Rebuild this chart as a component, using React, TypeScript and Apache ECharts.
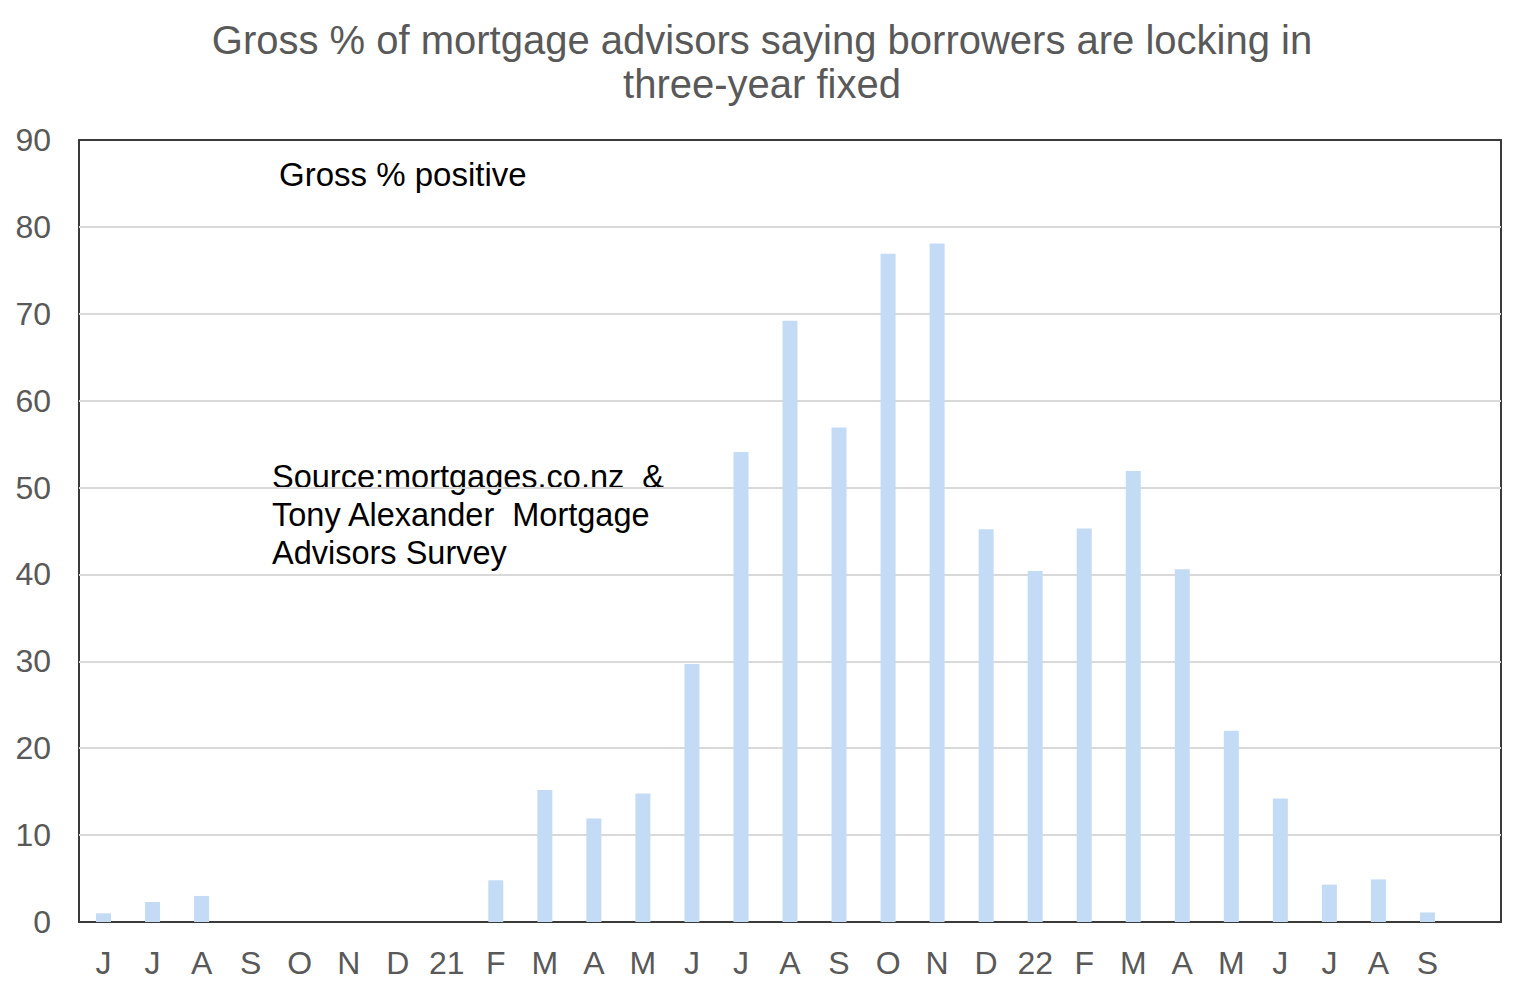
import React, { useEffect, useRef } from "react";
import * as echarts from "echarts";

const categories = ["J","J","A","S","O","N","D","21","F","M","A","M","J","J","A","S","O","N","D","22","F","M","A","M","J","J","A","S",""];
const grossPositive = [1.0,2.3,3.0,0,0,0,0,0,4.8,15.2,11.9,14.8,29.7,54.1,69.2,56.9,76.9,78.1,45.2,40.4,45.3,51.9,40.6,22.0,14.2,4.3,4.9,1.1,null];
const titleLines = ["Gross % of mortgage advisors saying borrowers are locking in", "three-year fixed"];
const seriesLabel = "Gross % positive";
const sourceLines = ["Source:mortgages.co.nz  &", "Tony Alexander  Mortgage", "Advisors Survey"];

const FONT = "'Liberation Sans', Arial, sans-serif";

export default function App() {
  const ref = useRef<HTMLDivElement>(null);
  useEffect(() => {
    if (!ref.current) return;
    const chart = echarts.init(ref.current, null, { renderer: "svg" });
    chart.setOption({
      animation: false,
      backgroundColor: "#ffffff",
      textStyle: { fontFamily: FONT },
      grid: {
        left: 79, right: 24, top: 140, bottom: 73,
        show: true, borderColor: "#3a3a3a", borderWidth: 2, backgroundColor: "#fff",
        containLabel: false,
      },
      xAxis: [
        {
          type: "category",
          data: categories,
          boundaryGap: true,
          axisLine: { show: true, lineStyle: { color: "#3a3a3a", width: 2 } },
          axisTick: { show: false },
          axisLabel: { interval: 0, color: "#595959", fontSize: 32, fontFamily: FONT, margin: 25 },
          splitLine: { show: false },
        },
        {
          type: "category",
          position: "top",
          data: categories,
          boundaryGap: true,
          axisLine: { show: true, lineStyle: { color: "#3a3a3a", width: 2 } },
          axisTick: { show: false },
          axisLabel: { show: false },
          splitLine: { show: false },
        },
      ],
      yAxis: {
        type: "value",
        min: 0, max: 90, interval: 10,
        axisLine: { show: false },
        axisTick: { show: false },
        axisLabel: { color: "#595959", fontSize: 32, fontFamily: FONT, margin: 28, padding: [0, 0, 4, 0] },
        splitLine: { show: true, lineStyle: { color: "#d9d9d9", width: 2 } },
      },
      series: [
        {
          type: "bar",
          name: seriesLabel,
          data: grossPositive,
          barWidth: 15,
          itemStyle: { color: "#c3dbf5" },
        },
      ],
      graphic: [
        {
          type: "text", x: 762, y: 40,
          style: { text: titleLines[0], font: `40px ${FONT}`, fill: "#595959", align: "center", verticalAlign: "middle" },
        },
        {
          type: "text", x: 762, y: 84,
          style: { text: titleLines[1], font: `40px ${FONT}`, fill: "#595959", align: "center", verticalAlign: "middle" },
        },
        {
          type: "text", x: 279, y: 174,
          style: { text: seriesLabel, font: `33px ${FONT}`, fill: "#000", align: "left", verticalAlign: "middle" },
        },
        ...sourceLines.map((t, i) => ({
          type: "text", x: 272, y: 477 + i * 38,
          style: { text: t, font: `32.5px ${FONT}`, fill: "#000", align: "left", verticalAlign: "middle" },
        })),
      ],
    });
    return () => chart.dispose();
  }, []);
  return <div ref={ref} style={{ position: "fixed", left: 0, top: 0, width: "1525px", height: "995px" }} />;
}
